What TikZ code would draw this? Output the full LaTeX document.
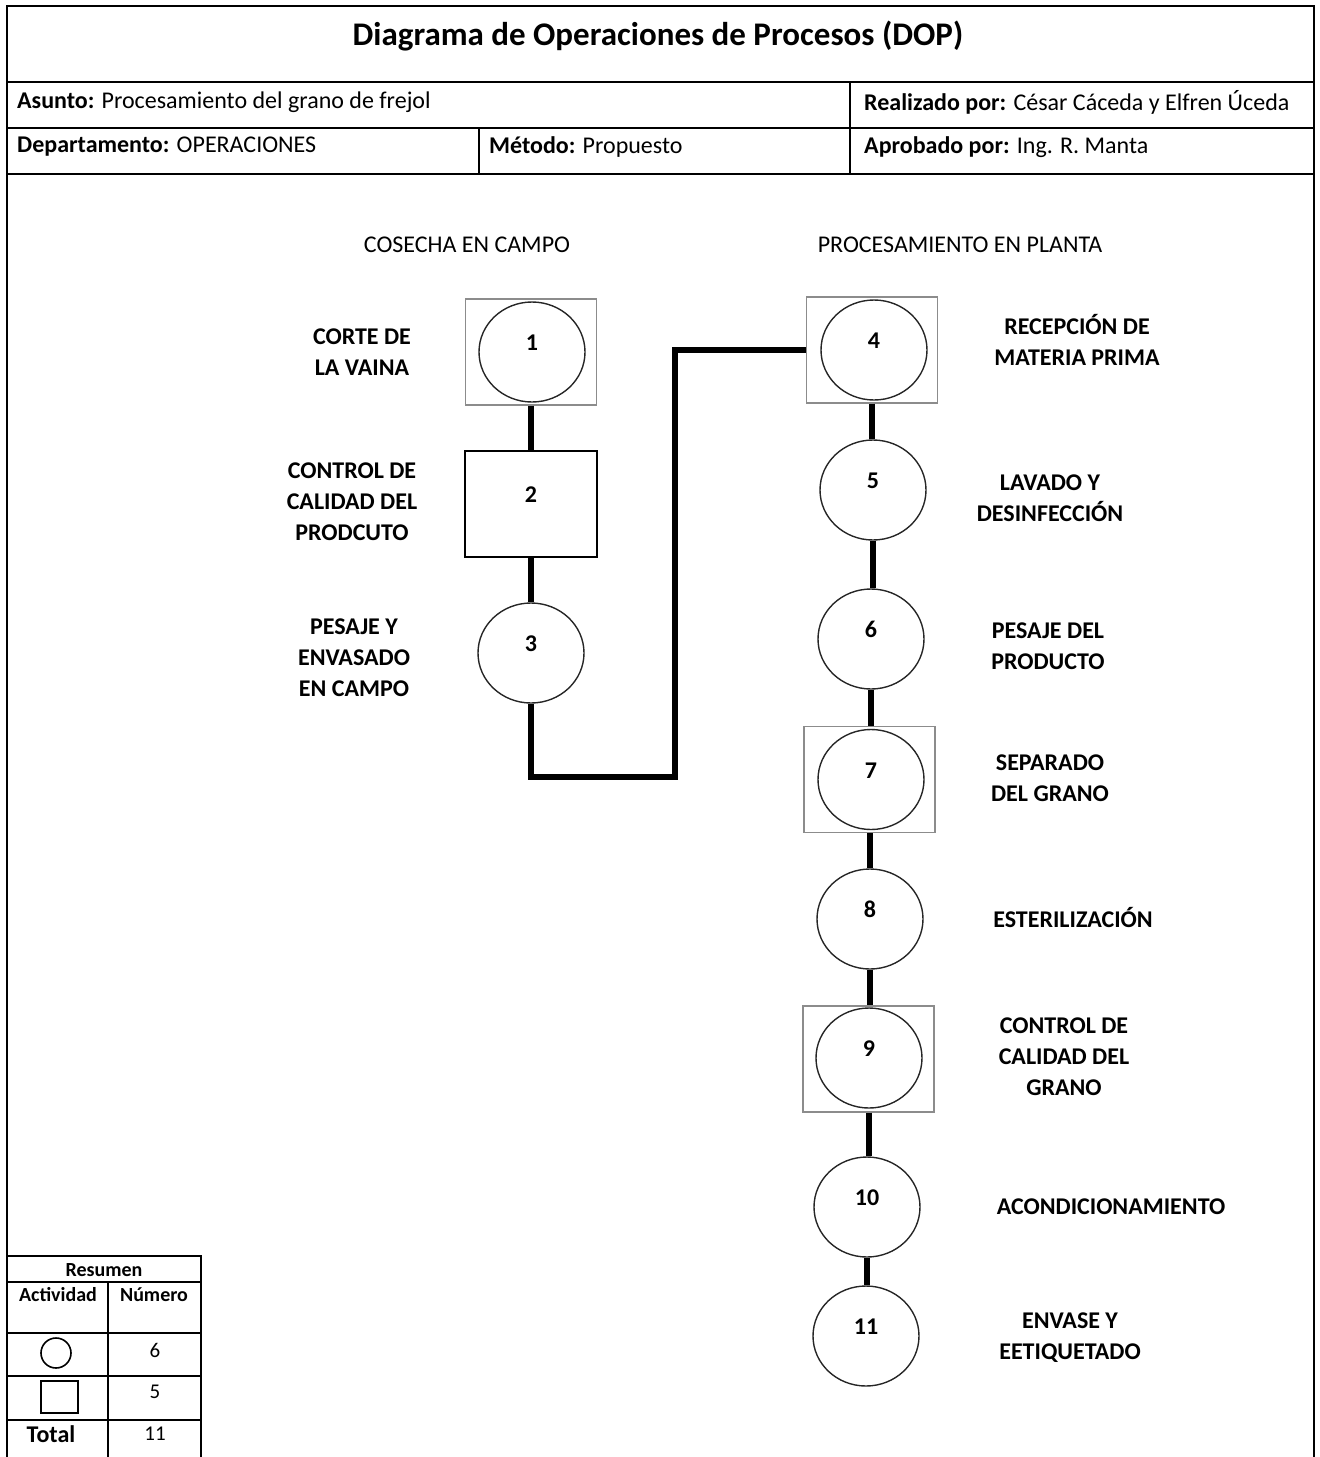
\documentclass[tikz,border=0pt]{standalone}
\usepackage{fontspec}
\setmainfont{Carlito}
\usetikzlibrary{shapes.geometric}
\begin{document}
\begin{tikzpicture}[x=1pt,y=-1pt,
  frame/.style={line width=2.2pt,black},
  conn/.style={line width=6pt,black},
  opc/.style={ellipse,draw=black!85,line width=1.4pt,minimum width=106pt,minimum height=100pt,inner sep=0pt,
     font=\fontsize{24}{28}\selectfont\bfseries,text height=15pt,text depth=18pt},
  combo/.style={rectangle,draw=black!45,line width=1.3pt,minimum width=131pt,minimum height=106pt,inner sep=0pt},
  insp/.style={rectangle,draw=black,line width=1.4pt,minimum width=132pt,minimum height=106pt,inner sep=0pt,
     font=\fontsize{24}{28}\selectfont\bfseries,text height=15pt,text depth=18pt},
  lbl/.style={align=center,font=\fontsize{24}{31}\selectfont\bfseries,inner sep=0pt},
  sect/.style={font=\fontsize{24}{28}\selectfont,inner sep=0pt},
  hdr/.style={anchor=west,font=\fontsize{24}{28}\selectfont,inner sep=0pt},
  tbl/.style={font=\fontsize{21}{24}\selectfont,inner sep=0pt},
  tbold/.style={font=\fontsize{20}{24}\selectfont\bfseries,inner sep=0pt},
  tline/.style={line width=2pt,black}]
\useasboundingbox (0,0) rectangle (1320,1457);
% outer frame and header
\draw[frame] (7,1457) -- (7,6) -- (1314,6) -- (1314,1457);
\draw[frame] (7,82) -- (1314,82);
\draw[frame] (7,128) -- (1314,128);
\draw[frame] (7,174) -- (1314,174);
\draw[frame] (850,82) -- (850,174);
\draw[frame] (479,128) -- (479,174);
\node[font=\fontsize{33}{40}\selectfont\bfseries,inner sep=0pt] (title) at (658,36) {Diagrama de Operaciones de Procesos (DOP)};
\node[hdr] (asunto) at (17,102) {\textbf{Asunto:} Procesamiento del grano de frejol};
\node[hdr] (realiz) at (864,102) {\textbf{Realizado por:} César Cáceda y Elfren Úceda};
\node[hdr] (depto) at (17,147) {\textbf{Departamento:} OPERACIONES};
\node[hdr] (metodo) at (489,147) {\textbf{Método:} Propuesto};
\node[hdr] (aprob) at (864,147) {\textbf{Aprobado por:} Ing. R. Manta};
% section headings
\node[sect] (cosecha) at (467,245) {COSECHA EN CAMPO};
\node[sect] (planta) at (960,245) {PROCESAMIENTO EN PLANTA};
% left column
\node[combo] (b1) at (531,352) {};
\node[opc] (n1) at (532,352) {1};
\node[insp] (n2) at (531,504) {2};
\node[opc] (n3) at (531,653) {3};
% right column
\node[combo] (b4) at (872,350) {};
\node[opc] (n4) at (874,350) {4};
\node[opc] (n5) at (873,490) {5};
\node[opc] (n6) at (871,639) {6};
\node[combo] (b7) at (869.5,779.5) {};
\node[opc] (n7) at (871,779.5) {7};
\node[opc] (n8) at (870,919) {8};
\node[combo] (b9) at (868.5,1059) {};
\node[opc] (n9) at (869,1058) {9};
\node[opc] (n10) at (867,1207) {10};
\node[opc] (n11) at (866,1336) {11};
% labels
\node[lbl] (l1) at (362,352) {CORTE DE\\LA VAINA};
\node[lbl] (l2) at (352,502) {CONTROL DE\\CALIDAD DEL\\PRODCUTO};
\node[lbl] (l3) at (354,658) {PESAJE Y\\ENVASADO\\EN CAMPO};
\node[lbl] (l4) at (1077,340) {RECEPCIÓN DE\\MATERIA PRIMA};
\node[lbl] (l5) at (1050,498) {LAVADO Y\\DESINFECCIÓN};
\node[lbl] (l6) at (1048,646) {PESAJE DEL\\PRODUCTO};
\node[lbl] (l7) at (1050,778) {SEPARADO\\DEL GRANO};
\node[lbl] (l8) at (1073,917) {ESTERILIZACIÓN};
\node[lbl] (l9) at (1064,1057) {CONTROL DE\\CALIDAD DEL\\GRANO};
\node[lbl] (l10) at (1111,1207) {ACONDICIONAMIENTO};
\node[lbl] (l11) at (1070,1338) {ENVASE Y\\EETIQUETADO};
% connectors
\coordinate (c1) at (675,777);
\draw[conn] (b1.south) -- (b1.south |- n2.north);
\draw[conn] (n2.south) -- (n2.south |- n3.north);
\draw[conn] (n3.south) |- (c1) |- (b4.west);
\draw[conn] (b4.south) -- (b4.south |- n5.north);
\draw[conn] (n5.south) -- (n5.south |- n6.north);
\draw[conn] (n6.south) -- (n6.south |- b7.north);
\draw[conn] (b7.south) -- (b7.south |- n8.north);
\draw[conn] (n8.south) -- (n8.south |- b9.north);
\draw[conn] (b9.south) -- (b9.south |- n10.north);
\draw[conn] (n10.south) -- (n10.south |- n11.north);
% summary table
\draw[tline] (6,1256) -- (201,1256) -- (201,1457);
\draw[tline] (6,1282) -- (201,1282);
\draw[tline] (6,1333) -- (201,1333);
\draw[tline] (6,1376) -- (201,1376);
\draw[tline] (6,1420) -- (201,1420);
\draw[tline] (108,1282) -- (108,1457);
\node[tbold] (tres) at (104,1270) {Resumen};
\node[tbold] (tact) at (58,1295) {Actividad};
\node[tbold] (tnum) at (154,1295) {Número};
\node[circle,draw,line width=1.6pt,minimum size=30pt,inner sep=0pt] (tcirc) at (56,1353) {};
\node[tbl] (t6) at (155,1350) {6};
\node[rectangle,draw,line width=1.8pt,minimum width=37pt,minimum height=32pt,inner sep=0pt] (tsq) at (59.5,1397) {};
\node[tbl] (t5) at (155,1392) {5};
\node[tbold,font=\fontsize{24}{28}\selectfont\bfseries] (ttot) at (51,1434) {Total};
\node[tbl] (t11) at (155,1434) {11};
\end{tikzpicture}
\end{document}
